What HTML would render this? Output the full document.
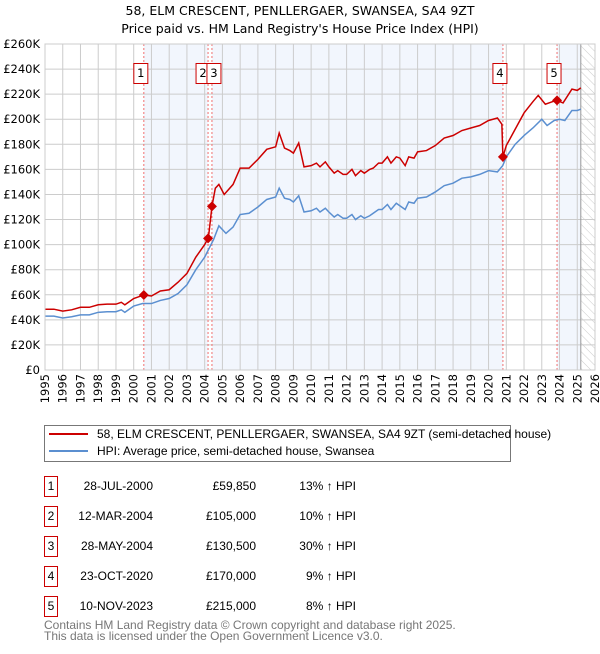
<!DOCTYPE html>
<html><head><meta charset="utf-8"><style>
body{margin:0;width:600px;height:650px;background:#fff;font-family:"DejaVu Sans","Liberation Sans",sans-serif;overflow:hidden}
svg text{font-family:"DejaVu Sans","Liberation Sans",sans-serif}
svg text.ls{font-family:"Liberation Sans",sans-serif}
</style></head><body>
<svg id="c" width="600" height="650">
<defs><pattern id="hatch" width="6" height="6" patternUnits="userSpaceOnUse" patternTransform="rotate(-45)"><line x1="0" y1="0" x2="0" y2="6" stroke="#ccc" stroke-width="1"/></pattern></defs>
<text x="300" y="15" text-anchor="middle" font-size="12.5">58, ELM CRESCENT, PENLLERGAER, SWANSEA, SA4 9ZT</text>
<text x="300" y="33" text-anchor="middle" font-size="12.5">Price paid vs. HM Land Registry's House Price Index (HPI)</text>
<g id="plot"></g>
<g>
<rect x="44.5" y="425.5" width="466" height="36" fill="#fff" stroke="#777"/>
<line x1="49" y1="434" x2="88" y2="434" stroke="#cc0000" stroke-width="2"/>
<text class="ls" x="97" y="438" font-size="12">58, ELM CRESCENT, PENLLERGAER, SWANSEA, SA4 9ZT (semi-detached house)</text>
<line x1="49" y1="451" x2="88" y2="451" stroke="#5b8fd0" stroke-width="2"/>
<text class="ls" x="97" y="455" font-size="12">HPI: Average price, semi-detached house, Swansea</text>
</g>
<g id="table" font-size="12"></g>
<text class="ls" x="44" y="629" font-size="12" fill="#777">Contains HM Land Registry data © Crown copyright and database right 2025.</text>
<text class="ls" x="44" y="640" font-size="12" fill="#777">This data is licensed under the Open Government Licence v3.0.</text>
</svg>
<script>
const hpiYears=[1995,1995.5,1996,1996.5,1997,1997.5,1998,1998.5,1999,1999.3,1999.5,2000,2000.5,2001,2001.5,2002,2002.5,2003,2003.5,2004,2004.5,2004.8,2005.2,2005.6,2006,2006.5,2007,2007.5,2008,2008.2,2008.5,2008.8,2009,2009.3,2009.6,2010,2010.3,2010.5,2010.8,2011,2011.3,2011.5,2011.8,2012,2012.3,2012.5,2012.8,2013,2013.3,2013.5,2013.8,2014,2014.3,2014.5,2014.8,2015,2015.3,2015.5,2015.8,2016,2016.5,2017,2017.5,2018,2018.5,2019,2019.5,2020,2020.5,2020.8,2021,2021.5,2022,2022.5,2023,2023.3,2023.7,2024,2024.3,2024.7,2025,2025.2];
const hpiValues=[43,43,41.5,42.5,44,44,46,46.5,46.5,48,46,51,53,53,55.5,57,61,68,80,90,104,115,109,114,124,125,130,136,138,145,137,136,134,139,126,127,129,126,129,126,122,124,121,121,124,120,123,121,123,125,128,128,132,128,133,131,128,134,133,137,138,142,147,149,153,154,156,159,158,163,170,180,187,193,200,195,199,200,199,207,207,208];
const priceYears=[1995,1995.5,1996,1996.5,1997,1997.5,1998,1998.5,1999,1999.3,1999.5,2000,2000.57,2001,2001.5,2002,2002.5,2003,2003.5,2004,2004.19,2004.2,2004.41,2004.6,2004.8,2005.1,2005.6,2006,2006.5,2007,2007.5,2008,2008.2,2008.5,2008.8,2009,2009.3,2009.6,2010,2010.3,2010.5,2010.8,2011,2011.3,2011.5,2011.8,2012,2012.3,2012.5,2012.8,2013,2013.3,2013.5,2013.8,2014,2014.3,2014.5,2014.8,2015,2015.3,2015.5,2015.8,2016,2016.5,2017,2017.5,2018,2018.5,2019,2019.5,2020,2020.5,2020.75,2020.81,2021,2021.5,2022,2022.5,2022.8,2023.2,2023.6,2023.86,2024.2,2024.7,2025,2025.2];
const priceValues=[48.5,48.5,47,48,50,50,52,52.5,52.5,54,52,57,59.85,59,63,64,70,77,90,100,105,104,130.5,145,148,140,148,161,161,168,176,178,189,177,175,173,181,162,163,165,162,166,162,157,159,156,156,160,155,159,157,160,161,165,165,170,165,170,169,163,170,169,174,175,179,185,187,191,193,195,199,201,196,170,179,192,205,214,219,212,214,215,213,224,223,225];
const saleYears=[2000.57,2004.19,2004.41,2020.81,2023.86];
const saleValues=[59.85,105,130.5,170,215];
const saleLabels=["1","2","3","4","5"];
const saleDates=["28-JUL-2000","12-MAR-2004","28-MAY-2004","23-OCT-2020","10-NOV-2023"];
const salePrices=["£59,850","£105,000","£130,500","£170,000","£215,000"];
const saleHpi=["13% ↑ HPI","10% ↑ HPI","30% ↑ HPI","9% ↑ HPI","8% ↑ HPI"];
const yTicks=[0,20,40,60,80,100,120,140,160,180,200,220,240,260];
const xTicks=[];for(let y=1995;y<=2026;y++)xTicks.push(y);

const X0=45,X1=595,Y0=370,Y1=44;
const xs=t=>X0+(t-1995)/(2026-1995)*(X1-X0);
const ys=v=>Y0-v/260*(Y0-Y1);
const NS="http://www.w3.org/2000/svg";
function mk(tag,attrs,parent){const e=document.createElementNS(NS,tag);for(const k in attrs)e.setAttribute(k,attrs[k]);parent.appendChild(e);return e;}
const g=document.getElementById('plot');
const bands=[[saleYears[0],saleYears[1]],[saleYears[2],saleYears[3]],[saleYears[4],2025.2]];
bands.forEach(b=>{const r=mk('rect',{x:xs(b[0]),y:Y1,width:xs(b[1])-xs(b[0]),height:Y0-Y1,fill:'#eef3fc',opacity:0.75},g);

});
const ht=mk('rect',{x:xs(2025.2),y:Y1,width:X1-xs(2025.2),height:Y0-Y1,fill:'url(#hatch)'},g);


xTicks.forEach(t=>{const l=mk('line',{x1:xs(t),x2:xs(t),y1:Y1,y2:Y0,stroke:'#ccc','stroke-width':1},g);


const tx=mk('text',{x:0,y:0,'font-size':11.5,'text-anchor':'end',transform:`translate(${xs(t)+4},374) rotate(-90)`},g);tx.textContent=t;

});
yTicks.forEach(v=>{const l=mk('line',{x1:X0,x2:X1,y1:ys(v),y2:ys(v),stroke:'#ccc','stroke-width':1},g);


const tx=mk('text',{x:40,y:ys(v)+4,'font-size':11.5,'text-anchor':'end'},g);tx.textContent=v===0?'£0':'£'+v+'K';

});
const nl=mk('line',{x1:xs(2025.2),x2:xs(2025.2),y1:Y1,y2:Y0,stroke:'#999','stroke-width':1},g);


saleYears.forEach(t=>{const l=mk('line',{x1:xs(t),x2:xs(t),y1:Y1,y2:Y0,stroke:'#f07070','stroke-width':1,'stroke-dasharray':'2,2'},g);

});
const hp=mk('polyline',{points:hpiYears.map((t,i)=>xs(t)+','+ys(hpiValues[i])).join(' '),fill:'none',stroke:'#5b8fd0','stroke-width':1.5},g);


const pp=mk('polyline',{points:priceYears.map((t,i)=>xs(t)+','+ys(priceValues[i])).join(' '),fill:'none',stroke:'#cc0000','stroke-width':1.5},g);


saleYears.forEach((t,i)=>{const x=xs(t),y=ys(saleValues[i]);
const d=mk('polygon',{points:`${x},${y-5} ${x+5},${y} ${x},${y+5} ${x-5},${y}`,fill:'#cc0000'},g);


const off=i===1?-5:(i===2?2:-3);
const r=mk('rect',{x:x+off-7,y:63.5,width:14,height:20,fill:'#fff',stroke:'#cc0000'},g);


const tx=mk('text',{x:x+off,y:77,'font-size':11.5,'text-anchor':'middle'},g);tx.textContent=saleLabels[i];

});
const ax=mk('rect',{x:X0,y:Y1,width:X1-X0,height:Y0-Y1,fill:'none',stroke:'#ccc'},g);


const tb=document.getElementById('table');
saleLabels.forEach((s,i)=>{const top=476+i*30;
const r=mk('rect',{x:44.5,y:top+0.5,width:13,height:20,fill:'#fff',stroke:'#cc0000'},tb);


const cells=[[51,'middle',s,'table-sale-number'],[153,'end',saleDates[i],'table-sale-date'],[256,'end',salePrices[i],'table-sale-price'],[356,'end',saleHpi[i],'table-sale-hpi']];
cells.forEach(c=>{const tx=mk('text',{x:c[0],y:top+14,'text-anchor':c[1],'class':'ls'},tb);tx.textContent=c[2];

});});
</script>
</body></html>
